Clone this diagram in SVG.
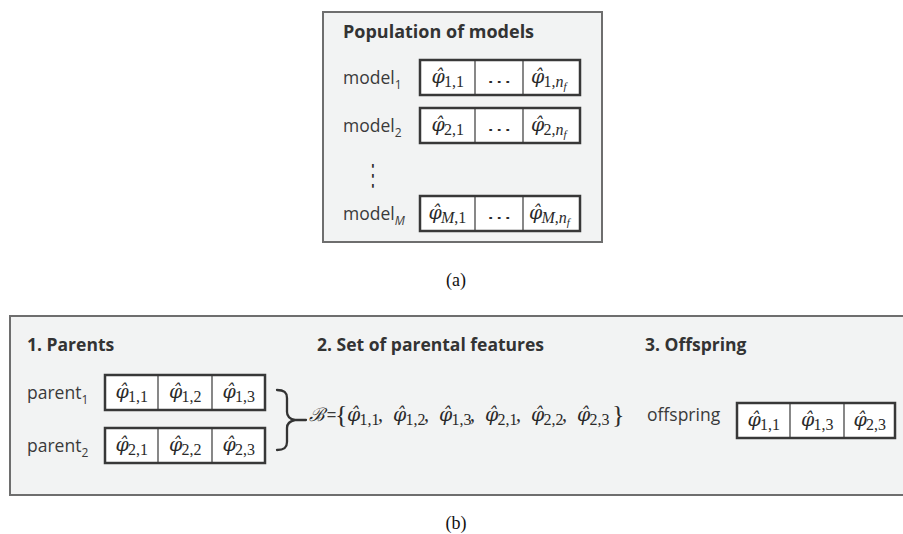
<svg xmlns="http://www.w3.org/2000/svg" width="903" height="534" viewBox="0 0 903 534">
<style>
.panel{fill:#f2f3f3;stroke:#6e6e6e;stroke-width:2}
.box{fill:#ffffff;stroke:#383838;stroke-width:2.5}
.div{stroke:#383838;stroke-width:1.2}
.lbl{font-family:"Open Sans","Noto Sans",sans-serif;fill:#3a3a3a;font-size:17.5px}
.hdr{font-family:"Open Sans","Noto Sans",sans-serif;fill:#333;font-weight:700}
.ph{font-family:"DejaVu Serif",serif;fill:#2a2a2a;font-size:19px;font-style:italic}
.sb{font-family:"Liberation Serif",serif;font-size:16px;font-style:normal}
.it{font-style:italic}
.ff{font-size:11px;font-style:italic}
.cm{font-family:"Liberation Serif",serif;font-size:20px;font-style:normal}
.m{font-family:"Liberation Serif","DejaVu Serif",serif;fill:#2a2a2a}
.dots{font-family:"DejaVu Sans",sans-serif;fill:#2a2a2a;font-size:16px;text-anchor:middle}
.sub{font-size:12px}
.cap{font-family:"Liberation Serif",serif;font-size:18px;fill:#111}
.brace{fill:none;stroke:#333;stroke-width:2.3;stroke-linecap:round}
</style>

<!-- Panel (a) -->
<g id="panel-a">
<rect class="panel" x="323" y="12" width="279" height="230"/>
<text class="hdr" x="343" y="38" font-size="18">Population of models</text>
</g>

<g id="model1">
<text class="lbl" x="343" y="84" font-size="18.5">model<tspan class="sub" dy="5">1</tspan></text>
<rect class="box" x="420" y="60" width="160" height="35"/>
<line class="div" x1="475" y1="60" x2="475" y2="95"/>
<line class="div" x1="523" y1="60" x2="523" y2="95"/>
<text class="ph" x="431.5" y="83">φ̂<tspan class="sb" x="444" y="87">1,1</tspan></text>
<text class="dots" transform="translate(499,87) scale(1.6,1)">⋯</text>
<text class="ph" x="531" y="83">φ̂<tspan class="sb" x="543.5" y="87">1,<tspan class="it">n</tspan><tspan class="ff" dy="3">f</tspan></tspan></text>
</g>

<g id="model2">
<text class="lbl" x="343" y="132" font-size="18.5">model<tspan class="sub" dy="5">2</tspan></text>
<rect class="box" x="420" y="108" width="160" height="35"/>
<line class="div" x1="475" y1="108" x2="475" y2="143"/>
<line class="div" x1="523" y1="108" x2="523" y2="143"/>
<text class="ph" x="431.5" y="131">φ̂<tspan class="sb" x="444" y="135">2,1</tspan></text>
<text class="dots" transform="translate(499,135) scale(1.6,1)">⋯</text>
<text class="ph" x="531" y="131">φ̂<tspan class="sb" x="543.5" y="135">2,<tspan class="it">n</tspan><tspan class="ff" dy="3">f</tspan></tspan></text>
</g>

<g id="vdots">
<text class="dots" font-size="30" transform="translate(373,185) scale(1,1.85)">⋮</text>
</g>

<g id="modelM">
<text class="lbl" x="343" y="220" font-size="18.5">model<tspan class="sub it" dy="5">M</tspan></text>
<rect class="box" x="420" y="196" width="160" height="35"/>
<line class="div" x1="475" y1="196" x2="475" y2="231"/>
<line class="div" x1="523" y1="196" x2="523" y2="231"/>
<text class="ph" x="428.5" y="219">φ̂<tspan class="sb" x="441" y="223"><tspan class="it">M</tspan>,1</tspan></text>
<text class="dots" transform="translate(499,223) scale(1.6,1)">⋯</text>
<text class="ph" x="529" y="219">φ̂<tspan class="sb" x="541.5" y="223"><tspan class="it">M</tspan>,<tspan class="it">n</tspan><tspan class="ff" dy="3">f</tspan></tspan></text>
</g>

<text class="cap" x="456" y="286" text-anchor="middle">(a)</text>

<!-- Panel (b) -->
<g id="panel-b">
<rect class="panel" x="10" y="316" width="900" height="179"/>
<text class="hdr" x="27" y="351" font-size="17.5">1. Parents</text>
<text class="hdr" x="317" y="351" font-size="17.5">2. Set of parental features</text>
<text class="hdr" x="645" y="351" font-size="17.5">3. Offspring</text>
</g>

<g id="parent1">
<text class="lbl" x="27" y="399">parent<tspan class="sub" dy="5">1</tspan></text>
<rect class="box" x="105" y="375" width="160" height="35"/>
<line class="div" x1="158" y1="375" x2="158" y2="410"/>
<line class="div" x1="212" y1="375" x2="212" y2="410"/>
<text class="ph" x="115.5" y="398">φ̂<tspan class="sb" x="128" y="402">1,1</tspan></text>
<text class="ph" x="169" y="398">φ̂<tspan class="sb" x="181.5" y="402">1,2</tspan></text>
<text class="ph" x="222.5" y="398">φ̂<tspan class="sb" x="235" y="402">1,3</tspan></text>
</g>

<g id="parent2">
<text class="lbl" x="27" y="452">parent<tspan class="sub" dy="5">2</tspan></text>
<rect class="box" x="105" y="428" width="160" height="35"/>
<line class="div" x1="158" y1="428" x2="158" y2="463"/>
<line class="div" x1="212" y1="428" x2="212" y2="463"/>
<text class="ph" x="115.5" y="451">φ̂<tspan class="sb" x="128" y="455">2,1</tspan></text>
<text class="ph" x="169" y="451">φ̂<tspan class="sb" x="181.5" y="455">2,2</tspan></text>
<text class="ph" x="222.5" y="451">φ̂<tspan class="sb" x="235" y="455">2,3</tspan></text>
</g>

<g id="connectors">
<path class="brace" d="M277,390 C284,390 287,392 287,398 L287,412 C287,417 290,419 295,420 C290,421 287,423 287,428 L287,442 C287,448 284,450 277,450 M295,420 L306,420"/>
</g>

<g id="parental-set">
<text class="m" x="309" y="421" font-family="DejaVu Serif" font-style="italic" font-size="18.5">ℬ</text>
<text class="lbl" x="326.5" y="421" font-size="17">=</text>
<text class="m" x="335" y="423" font-size="26">{</text>
<text class="ph" x="347" y="421">φ̂<tspan class="sb" x="359.5" y="425">1,1</tspan><tspan class="cm" x="378" y="421">,</tspan></text>
<text class="ph" x="393" y="421">φ̂<tspan class="sb" x="405.5" y="425">1,2</tspan><tspan class="cm" x="424" y="421">,</tspan></text>
<text class="ph" x="439" y="421">φ̂<tspan class="sb" x="451.5" y="425">1,3</tspan><tspan class="cm" x="470" y="421">,</tspan></text>
<text class="ph" x="485" y="421">φ̂<tspan class="sb" x="497.5" y="425">2,1</tspan><tspan class="cm" x="516" y="421">,</tspan></text>
<text class="ph" x="531" y="421">φ̂<tspan class="sb" x="543.5" y="425">2,2</tspan><tspan class="cm" x="562" y="421">,</tspan></text>
<text class="ph" x="577" y="421">φ̂<tspan class="sb" x="589.5" y="425">2,3</tspan></text>
<text class="m" x="612" y="423" font-size="26">}</text>
</g>

<g id="offspring">
<text class="lbl" x="647" y="421">offspring</text>
<rect class="box" x="737" y="403" width="158" height="35"/>
<line class="div" x1="790" y1="403" x2="790" y2="438"/>
<line class="div" x1="844" y1="403" x2="844" y2="438"/>
<text class="ph" x="747.5" y="426">φ̂<tspan class="sb" x="760" y="430">1,1</tspan></text>
<text class="ph" x="801" y="426">φ̂<tspan class="sb" x="813.5" y="430">1,3</tspan></text>
<text class="ph" x="853.5" y="426">φ̂<tspan class="sb" x="866" y="430">2,3</tspan></text>
</g>

<text class="cap" x="456" y="529" text-anchor="middle">(b)</text>
</svg>
